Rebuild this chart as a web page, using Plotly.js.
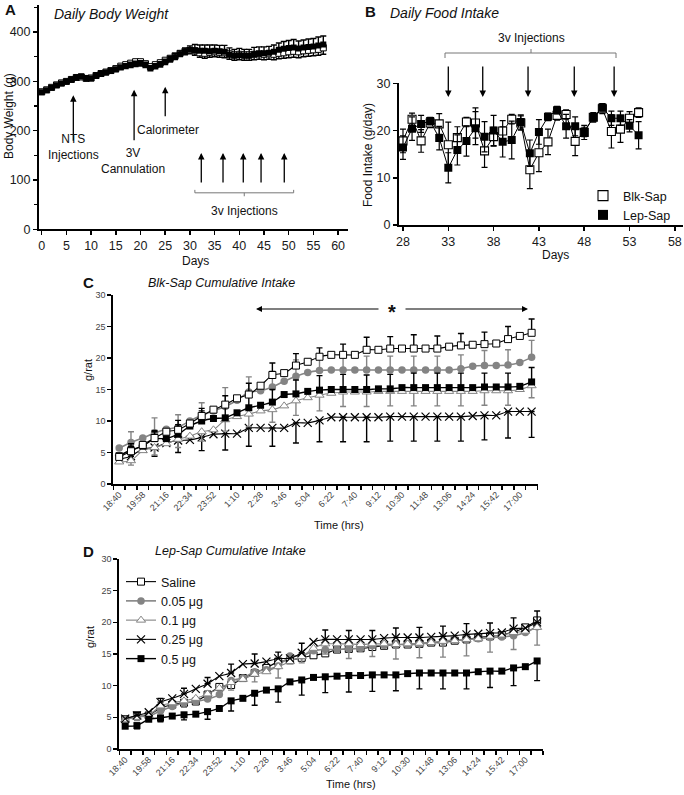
<!DOCTYPE html>
<html>
<head>
<meta charset="utf-8">
<script src="https://cdn.plot.ly/plotly-3.0.1.min.js"></script>
<style>html,body{margin:0;padding:0;background:#fff}#chart{width:684px;height:795px}</style>
</head>
<body>
<div id="chart"></div>
<script>
// ---------- Panel A: Daily body weight ----------
const bwDays = [0,1,2,3,4,5,6,7,8,9,10,11,12,13,14,15,16,17,18,19,20,21,22,23,24,25,26,27,28,29,30,31,32,33,34,35,36,37,38,39,40,41,42,43,44,45,46,47,48,49,50,51,52,53,54,55,56,57];
const bwBlk = [279,283,288,293,297,300,304,308,309,306,307,312,316,319,322,326,331,334,337,340,340,336,330,334,338,343,347,352,357,361,363,362,358,357,359,360,359,358,356,354,355,354,354,355,356,355,356,355,357,358,360,361,360,362,363,364,365,368];
const bwLep = [278,282,287,292,296,300,304,308,310,307,306,311,315,318,321,324,328,331,333,335,336,333,326,330,334,339,344,349,355,360,364,363,362,362,361,362,361,360,354,352,353,352,352,355,356,357,358,360,364,366,368,369,367,369,370,371,373,375];
const bwBlkErr = [3,3,3,3,3,3,3,3,4,4,4,4,4,4,5,5,5,5,5,5,5,5,6,6,6,6,6,6,6,7,7,9,9,10,10,10,10,10,11,11,11,11,11,11,11,11,11,11,11,11,12,12,12,12,12,12,12,13];
const bwLepErr = [3,3,3,3,3,3,3,3,4,4,4,4,4,4,5,5,5,5,6,6,6,6,6,6,6,6,7,7,7,8,8,12,12,12,13,12,12,13,14,13,14,13,13,14,14,13,13,14,14,15,15,16,15,15,16,16,17,17];

// ---------- Panel B: Daily food intake ----------
const fiDays = [28,29,30,31,32,33,34,35,36,37,38,39,40,41,42,43,44,45,46,47,48,49,50,51,52,53,54];
const fiBlk = [17.8,22.4,17.8,21.6,21.4,17.0,18.5,21.8,21.6,15.7,18.7,19.9,22.4,21.6,11.7,15.3,17.6,23.2,23.4,17.7,19.6,22.8,24.6,19.8,20.3,22.6,23.8];
const fiLep = [16.4,20.4,21.4,22.0,18.4,12.1,15.9,17.8,20.5,18.7,20.0,17.6,18.0,21.8,15.2,19.7,22.9,24.3,20.9,20.9,19.7,22.8,24.9,22.6,22.6,21.0,19.0];
const fiBlkErr = [2.5,1.3,2.4,1.0,2.2,4.8,2.3,1.0,3.2,3.5,2.0,2.2,1.0,1.5,4.0,4.0,2.7,1.0,1.0,3.0,1.5,1.0,1.0,3.5,2.8,1.4,1.0];
const fiLepErr = [2.5,2.5,1.8,0.8,2.5,3.2,3.2,3.2,3.5,3.2,3.2,3.2,4.0,1.5,2.8,2.6,0.8,0.8,2.5,2.0,1.0,0.8,0.8,1.5,1.5,1.3,2.9];
const injectionDays = [33,36.8,41.8,46.9,51.3];

// ---------- Panels C & D: cumulative intake ----------
const times = ['18:40','19:19','19:58','20:37','21:16','21:55','22:34','23:13','23:52','0:31','1:10','1:49','2:28','3:07','3:46','4:25','5:04','5:43','6:22','7:01','7:40','8:26','9:12','9:51','10:30','11:09','11:48','12:27','13:06','13:45','14:24','15:03','15:42','16:21','17:00','17:39'];
const timeTickLabels = ['18:40','19:58','21:16','22:34','23:52','1:10','2:28','3:46','5:04','6:22','7:40','9:12','10:30','11:48','13:06','14:24','15:42','17:00'];
const doseNames = ['Saline','0.05 \u03bcg','0.1 \u03bcg','0.25 \u03bcg','0.5 \u03bcg'];

// Blk-Sap (panel C)
const blkSaline = [4.3,5.2,6.2,7.3,8.3,8.6,9.6,10.8,11.8,12.6,13.6,14.2,15.6,17.3,17.6,18.8,19.4,20.2,20.5,20.5,20.5,21.3,21.3,21.5,21.5,21.5,21.5,21.5,21.8,22.0,22.1,22.2,22.3,23.0,23.5,24.0];
const blk005 = [5.7,6.6,7.3,8.1,8.7,9.0,10.0,10.9,11.6,12.3,13.3,14.6,14.8,15.4,16.3,17.1,17.7,18.0,18.1,18.1,18.1,18.1,18.1,18.1,18.1,18.1,18.1,18.1,18.1,18.3,18.7,18.8,18.8,18.9,19.3,20.1];
const blk01 = [3.5,3.7,5.3,5.8,6.4,7.1,7.6,8.3,8.6,10.2,10.7,11.1,11.6,11.8,12.4,13.2,13.7,14.1,14.4,14.6,14.6,14.6,14.7,14.7,14.7,14.7,14.7,14.7,14.7,14.7,14.7,14.8,14.8,14.8,15.0,15.6];
const blk025 = [3.9,4.4,5.6,5.8,6.5,6.9,7.0,7.4,7.9,8.0,8.0,8.9,8.9,8.9,8.9,9.7,9.7,10.1,10.6,10.6,10.6,10.6,10.6,10.7,10.7,10.7,10.7,10.7,10.7,10.7,10.8,10.9,10.9,11.5,11.5,11.5];
const blk05 = [4.5,5.4,6.0,7.2,7.2,7.9,9.2,10.0,10.4,10.5,11.3,12.1,12.5,13.0,14.2,14.3,14.7,14.9,15.0,15.0,15.0,15.0,15.1,15.1,15.3,15.3,15.3,15.3,15.3,15.3,15.3,15.4,15.4,15.4,15.5,16.2];
const blkSalineErr = [null,0.8,null,1.0,null,1.5,null,1.2,null,1.4,null,1.8,null,1.9,null,1.9,null,1.4,null,1.7,null,2.0,null,1.9,null,2.2,null,2.0,null,1.9,null,1.9,null,2.0,null,2.2];
const blk005Err = [null,1.7,null,2.4,null,2.0,null,2.0,null,3.0,null,2.4,null,2.5,null,2.6,null,2.4,null,2.2,null,2.2,null,2.2,null,2.2,null,2.2,null,2.2,null,2.4,null,2.4,null,2.7];
const blk01Err = [null,0.7,null,1.2,null,1.3,null,1.5,null,1.8,null,2.0,null,2.0,null,2.3,null,2.5,null,2.3,null,2.3,null,2.3,null,2.3,null,2.3,null,2.3,null,2.3,null,2.3,null,1.9];
const blk025Err = [null,0.8,null,1.4,null,1.9,null,2.1,null,2.6,null,2.9,null,2.9,null,3.2,null,3.4,null,3.9,null,3.9,null,3.9,null,3.9,null,3.9,null,3.9,null,3.9,null,4.2,null,4.1];
const blk05Err = [null,1.0,null,1.3,null,1.5,null,1.6,null,1.8,null,1.9,null,2.0,null,2.2,null,2.3,null,2.4,null,2.3,null,2.3,null,2.3,null,2.3,null,2.3,null,2.2,null,2.2,null,2.3];

// Lep-Sap (panel D)
const lepSaline = [4.7,5.3,5.3,6.5,7.0,7.3,7.5,8.6,9.8,10.1,11.2,12.0,12.8,13.8,14.0,14.4,14.8,15.1,15.7,15.8,15.9,16.1,16.3,16.5,16.5,16.6,16.8,16.8,17.1,17.3,17.6,17.8,18.0,18.5,19.2,20.3];
const lep005 = [4.6,5.3,5.2,6.0,6.7,7.3,7.5,7.9,8.6,10.8,11.2,12.2,12.5,13.1,14.7,14.7,15.5,15.7,15.7,15.8,15.9,16.3,16.4,16.5,16.5,16.6,16.8,17.0,17.2,17.3,17.4,17.6,17.7,17.9,18.4,19.3];
const lep01 = [4.6,5.0,5.3,6.8,7.3,7.6,8.0,8.7,9.6,10.5,11.0,11.8,12.2,13.0,13.8,14.6,15.9,16.6,16.6,16.6,16.5,16.6,16.6,16.5,16.6,16.7,16.8,17.0,17.1,17.3,17.4,17.8,18.0,18.4,18.6,19.2];
const lep025 = [4.8,5.3,5.8,7.4,8.0,8.7,9.5,10.3,11.5,12.0,13.4,13.5,13.8,14.3,14.3,15.2,16.9,17.3,17.3,17.3,17.3,17.3,17.5,17.6,17.6,17.6,17.7,17.8,17.9,18.1,18.2,18.3,18.4,19.0,19.1,20.0];
const lep05 = [3.6,3.7,4.7,4.9,5.2,5.4,5.5,5.9,6.4,7.6,8.0,8.8,9.3,9.5,10.6,10.9,11.3,11.4,11.5,11.6,11.6,11.7,11.7,11.7,11.9,12.0,12.0,12.0,12.0,12.0,12.2,12.3,12.3,12.8,13.0,13.9];
const lep01Err = [null,0.5,null,0.8,null,1.0,null,1.0,null,1.2,null,1.2,null,1.8,null,1.0,null,1.6,null,2.3,null,2.0,null,2.3,null,2.3,null,2.5,null,2.6,null,2.5,null,2.7,null,2.8];
const lep025Err = [null,0.5,null,0.6,null,0.9,null,1.0,null,1.4,null,1.5,null,1.0,null,1.5,null,1.5,null,1.4,null,1.4,null,1.5,null,1.6,null,1.6,null,1.7,null,1.6,null,1.7,null,1.8];
const lep05Err = [null,0.5,null,0.6,null,0.8,null,1.2,null,1.6,null,1.9,null,2.1,null,2.4,null,2.5,null,2.6,null,2.6,null,2.5,null,2.5,null,2.5,null,2.5,null,2.6,null,2.8,null,3.1];

// ---------- helpers ----------
const FONT = 'Liberation Sans, Arial, Helvetica, sans-serif';
const W = 684, H = 795;
const px = v => v / W, py = v => 1 - v / H;
const GRAY = '#848484';
const idx = times.map((t, i) => i);
const tickIdx = timeTickLabels.map(l => times.indexOf(l));
const nanify = a => a.map(v => (v === null ? NaN : v));

function errBar(vals, dir, color) {
  const v = nanify(vals);
  const zero = v.map(x => (isNaN(x) ? NaN : 0));
  return dir === 'up'
    ? {type: 'data', symmetric: false, array: v, arrayminus: zero, color, thickness: 1.4, width: 3}
    : {type: 'data', symmetric: false, array: zero, arrayminus: v, color, thickness: 1.4, width: 3};
}
const doseStyles = [
  {line: {color: '#000', width: 1.1}, marker: {symbol: 'square', size: 7, color: '#fff', line: {color: '#000', width: 1}}},
  {line: {color: GRAY, width: 1.6}, marker: {symbol: 'circle', size: 7.5, color: GRAY, line: {width: 0}}},
  {line: {color: GRAY, width: 1.1}, marker: {symbol: 'triangle-up', size: 8, color: '#fff', line: {color: GRAY, width: 1}}},
  {line: {color: '#000', width: 1.1}, marker: {symbol: 'x-thin', size: 8, color: '#000', line: {color: '#000', width: 1.2}}},
  {line: {color: '#000', width: 1.4}, marker: {symbol: 'square', size: 7, color: '#000', line: {width: 0}}}
];
function doseTrace(k, y, err, dir, errColor, xa, ya, inLegend) {
  const st = doseStyles[k];
  return {
    type: 'scatter', mode: 'lines+markers', x: idx, y: y, xaxis: xa, yaxis: ya,
    name: doseNames[k], legend: 'legend2', showlegend: inLegend, cliponaxis: false,
    line: Object.assign({shape: 'spline', smoothing: 0.5}, st.line), marker: st.marker,
    error_y: err ? errBar(err, dir, errColor) : {visible: false}
  };
}

const data = [];
// Panel A
data.push({type: 'scatter', mode: 'lines+markers', x: bwDays, y: bwBlk, xaxis: 'x', yaxis: 'y', showlegend: false, name: 'Blk-Sap',
  line: {color: '#000', width: 1}, marker: {symbol: 'square', size: 6, color: '#fff', line: {color: '#000', width: 1}},
  error_y: errBar(bwBlkErr, 'down', '#000')});
data.push({type: 'scatter', mode: 'lines+markers', x: bwDays, y: bwLep, xaxis: 'x', yaxis: 'y', showlegend: false, name: 'Lep-Sap',
  line: {color: '#000', width: 1}, marker: {symbol: 'square', size: 6, color: '#000'},
  error_y: errBar(bwLepErr, 'up', '#000')});
// Panel B
data.push({type: 'scatter', mode: 'lines+markers', x: fiDays, y: fiBlk, xaxis: 'x2', yaxis: 'y2', showlegend: false, name: 'Blk-Sap',
  line: {color: '#000', width: 1}, marker: {symbol: 'square', size: 8, color: '#fff', line: {color: '#000', width: 1.1}},
  error_y: {type: 'data', array: fiBlkErr, color: '#000', thickness: 1.2, width: 3}});
data.push({type: 'scatter', mode: 'lines+markers', x: fiDays, y: fiLep, xaxis: 'x2', yaxis: 'y2', showlegend: false, name: 'Lep-Sap',
  line: {color: '#000', width: 1}, marker: {symbol: 'square', size: 8, color: '#000'},
  error_y: {type: 'data', array: fiLepErr, color: '#000', thickness: 1.2, width: 3}});
data.push({type: 'scatter', mode: 'markers', x: [null], y: [null], xaxis: 'x2', yaxis: 'y2', name: 'Blk-Sap', legend: 'legend',
  marker: {symbol: 'square', size: 10, color: '#fff', line: {color: '#000', width: 1.1}}});
data.push({type: 'scatter', mode: 'markers', x: [null], y: [null], xaxis: 'x2', yaxis: 'y2', name: 'Lep-Sap', legend: 'legend',
  marker: {symbol: 'square', size: 10, color: '#000'}});
// Panel C
data.push(doseTrace(3, blk025, blk025Err, 'down', '#000', 'x3', 'y3', false));
data.push(doseTrace(2, blk01, blk01Err, 'down', GRAY, 'x3', 'y3', false));
data.push(doseTrace(1, blk005, blk005Err, 'up', GRAY, 'x3', 'y3', false));
data.push(doseTrace(4, blk05, blk05Err, 'up', '#000', 'x3', 'y3', false));
data.push(doseTrace(0, blkSaline, blkSalineErr, 'up', '#000', 'x3', 'y3', false));
// Panel D
data.push(doseTrace(0, lepSaline, null, 'up', '#000', 'x4', 'y4', true));
data.push(doseTrace(1, lep005, null, 'up', GRAY, 'x4', 'y4', true));
data.push(doseTrace(2, lep01, lep01Err, 'down', GRAY, 'x4', 'y4', true));
data.push(doseTrace(3, lep025, lep025Err, 'up', '#000', 'x4', 'y4', true));
data.push(doseTrace(4, lep05, lep05Err, 'down', '#000', 'x4', 'y4', true));

const axBase = {showline: true, linecolor: '#000', linewidth: 2, showgrid: false, zeroline: false,
  ticks: 'outside', ticklen: 4, tickwidth: 1.5, tickcolor: '#000'};
const bigTick = {family: FONT, size: 12.5, color: '#1a1a1a'};
const smallTick = {family: FONT, size: 9, color: '#444'};
const catX = (dom, ya) => Object.assign({}, axBase, {
  domain: dom, anchor: ya, range: [-0.5, times.length - 0.5],
  tickmode: 'array', tickvals: tickIdx, ticktext: timeTickLabels, tickangle: -45, ticks: '', tickfont: smallTick,
  minor: {tickmode: 'linear', tick0: -0.5, dtick: 1, ticks: 'outside', ticklen: 4, tickwidth: 1.5, tickcolor: '#000', showgrid: false}
});
const cumY = (dom, xa) => Object.assign({}, axBase, {domain: dom, anchor: xa, range: [0, 30], dtick: 5, tickfont: smallTick});

const arrowA = (x, y, ay) => ({xref: 'x', yref: 'y', x, y, ax: 0, ay, text: '', showarrow: true,
  arrowhead: 2, arrowsize: 1, arrowwidth: 1.3, arrowcolor: '#000'});
const txt = (text, x, y, size, extra) => Object.assign({xref: 'paper', yref: 'paper', x: px(x), y: py(y), text,
  showarrow: false, xanchor: 'center', yanchor: 'middle', font: {family: FONT, size, color: '#111'}}, extra || {});

const annotations = [
  // panel letters and titles
  txt('<b>A</b>', 3, 10, 15, {xanchor: 'left'}),
  txt('<i>Daily Body Weight</i>', 52, 14, 14, {xanchor: 'left'}),
  txt('<b>B</b>', 363, 12, 15, {xanchor: 'left'}),
  txt('<i>Daily Food Intake</i>', 388, 13, 14, {xanchor: 'left'}),
  txt('<b>C</b>', 81, 283, 15, {xanchor: 'left'}),
  txt('<i>Blk-Sap Cumulative Intake</i>', 146, 283, 12.5, {xanchor: 'left'}),
  txt('<b>D</b>', 81, 551, 15, {xanchor: 'left'}),
  txt('<i>Lep-Sap Cumulative Intake</i>', 153, 551, 12.5, {xanchor: 'left'}),
  // axis titles
  txt('Body Weight (g)', 9, 116, 12, {textangle: -90}),
  txt('Days', 195, 261, 12),
  txt('Food Intake (g/day)', 368, 155, 12, {textangle: -90}),
  txt('Days', 555, 255, 12),
  txt('g/rat', 88, 370, 11, {textangle: -90}),
  txt('Time (hrs)', 339, 525, 11),
  txt('g/rat', 90, 637, 11, {textangle: -90}),
  txt('Time (hrs)', 351, 784, 11),
  // panel A notes
  arrowA(6.4, 272, 47), arrowA(18.7, 283, 52), arrowA(25, 289, 31),
  txt('NTS<br>Injections', 73, 147, 12),
  txt('3V<br>Cannulation', 133, 161, 12),
  txt('Calorimeter', 168, 130, 12),
  txt('3v Injections', 244, 211, 12),
  // panel C significance arrow
  {xref: 'paper', yref: 'paper', x: px(256), y: py(309), ax: 124, ay: 0, text: '', showarrow: true, arrowhead: 2, arrowsize: 1, arrowwidth: 1.2, arrowcolor: '#000'},
  {xref: 'paper', yref: 'paper', x: px(528), y: py(309), ax: -124, ay: 0, text: '', showarrow: true, arrowhead: 2, arrowsize: 1, arrowwidth: 1.2, arrowcolor: '#000'},
  txt('<b>*</b>', 392, 312, 20),
  // panel B
  txt('3v Injections', 531, 38, 12)
];
[32.3, 36.7, 40.8, 44.4, 49.1].forEach(d => annotations.push(arrowA(d, 155, 31)));
injectionDays.forEach(d => annotations.push({xref: 'x2', yref: 'paper', x: d, y: py(97), ax: 0, ay: -32, text: '',
  showarrow: true, arrowhead: 2, arrowsize: 1, arrowwidth: 1.3, arrowcolor: '#000'}));

const bracketColor = '#777';
const shapes = [
  // panel A bracket
  {type: 'line', xref: 'x', yref: 'y', x0: 31, x1: 51, y0: 74, y1: 74, line: {color: bracketColor, width: 1}},
  {type: 'line', xref: 'x', yref: 'y', x0: 31, x1: 31, y0: 74, y1: 80, line: {color: bracketColor, width: 1}},
  {type: 'line', xref: 'x', yref: 'y', x0: 51, x1: 51, y0: 74, y1: 80, line: {color: bracketColor, width: 1}},
  {type: 'line', xref: 'x', yref: 'y', x0: 41, x1: 41, y0: 74, y1: 67, line: {color: bracketColor, width: 1}},
  // panel B bracket
  {type: 'line', xref: 'paper', yref: 'paper', x0: px(445), x1: px(616), y0: py(53), y1: py(53), line: {color: bracketColor, width: 1}},
  {type: 'line', xref: 'paper', yref: 'paper', x0: px(445), x1: px(445), y0: py(53), y1: py(58), line: {color: bracketColor, width: 1}},
  {type: 'line', xref: 'paper', yref: 'paper', x0: px(616), x1: px(616), y0: py(53), y1: py(58), line: {color: bracketColor, width: 1}},
  {type: 'line', xref: 'paper', yref: 'paper', x0: px(531), x1: px(531), y0: py(53), y1: py(49), line: {color: bracketColor, width: 1}}
];

const layout = {
  width: W, height: H, margin: {l: 0, r: 0, t: 0, b: 0},
  paper_bgcolor: '#fff', plot_bgcolor: 'rgba(0,0,0,0)',
  font: {family: FONT, size: 12, color: '#111'},
  showlegend: true,
  xaxis: Object.assign({}, axBase, {domain: [px(39), px(348)], anchor: 'y', range: [-0.55, 62], tick0: 0, dtick: 5, tickfont: bigTick}),
  yaxis: Object.assign({}, axBase, {domain: [py(229.3), py(5)], anchor: 'x', range: [0, 455], tick0: 0, dtick: 100, tickfont: bigTick,
    minor: {tick0: 0, dtick: 50, ticks: 'outside', ticklen: 3, tickwidth: 1.2, tickcolor: '#000'}}),
  xaxis2: Object.assign({}, axBase, {domain: [px(399), px(683)], anchor: 'y2', range: [27.56, 58.9], tick0: 28, dtick: 5, tickfont: bigTick}),
  yaxis2: Object.assign({}, axBase, {domain: [py(225), py(83.3)], anchor: 'x2', range: [0, 30], dtick: 10, tickfont: bigTick}),
  xaxis3: catX([px(113.3), px(537.5)], 'y3'),
  yaxis3: cumY([py(484), py(295)], 'x3'),
  xaxis4: catX([px(119.3), px(543)], 'y4'),
  yaxis4: cumY([py(749), py(559)], 'x4'),
  legend: {x: px(583), y: py(181), xanchor: 'left', yanchor: 'top', bgcolor: 'rgba(0,0,0,0)',
    font: {family: FONT, size: 12.5, color: '#111'}, itemwidth: 30, tracegroupgap: 0},
  legend2: {x: px(121), y: py(567), xanchor: 'left', yanchor: 'top', bgcolor: 'rgba(0,0,0,0)',
    font: {family: FONT, size: 12.5, color: '#111'}, itemwidth: 30, tracegroupgap: 0},
  annotations, shapes
};

Plotly.newPlot('chart', data, layout, {displayModeBar: false, staticPlot: true});
</script>
</body>
</html>
